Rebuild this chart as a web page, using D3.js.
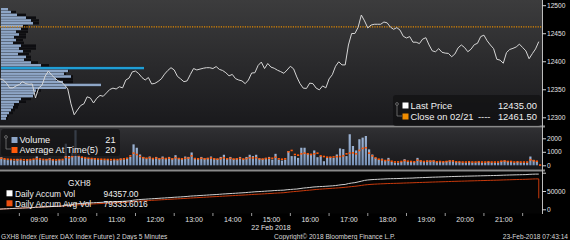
<!DOCTYPE html>
<html><head><meta charset="utf-8">
<script src="https://cdn.jsdelivr.net/npm/d3@7"></script>
<style>html,body{margin:0;padding:0;background:#000;}svg{display:block;font-family:"Liberation Sans",Arial,sans-serif;}</style>
</head><body><svg id="c" width="570" height="240"></svg>
<script>
// ---------------- DATA ----------------
const barMinutes = 5; // 5-minute bars starting 08:00
const price = [
12368.5,12366.5,12361,12352.5,12352.5,12356,12358.5,12363.5,12360,12359,
12359.5,12334.5,12352.5,12357,12373.5,12382.5,12375.5,12370,12365,12363,
12358,12350.5,12324,12304.5,12313,12321,12324,12336.5,12334.5,12325.5,
12334,12339,12337.5,12343.5,12349.5,12352,12350.5,12354.5,12352.5,12366.5,
12370,12381,12382.5,12378,12371,12366.5,12371,12359.5,12360.5,12364,
12368.5,12377,12383.5,12388.5,12384.5,12373,12368.5,12363.5,12365,12376.5,
12387,12384.5,12386,12387.5,12388.5,12388.5,12387,12390.5,12385.5,12383.5,
12379.5,12374,12376.5,12369,12366.5,12365,12360,12366.5,12379,12379.5,
12392.5,12398.5,12387,12396,12389.5,12387.5,12384,12381.5,12378.5,12384.5,
12391,12386.5,12372,12360,12352,12351.5,12361,12360,12352,12349,
12356,12352.5,12368.5,12376,12391,12399,12393.5,12393.5,12429,12449.5,
12449.5,12460.5,12482.5,12472,12459.5,12464.5,12466,12466,12466,12470,
12468.5,12461,12457,12460,12455.5,12444.5,12441.5,12444,12434,12434,
12431.5,12439.5,12442,12429,12418.5,12417,12422.5,12416,12414.5,12414,
12408,12413,12424,12429,12424.5,12417,12421.5,12429.5,12432,12444,
12446.5,12436.5,12429,12422.5,12403.5,12402,12396.5,12415.5,12421,12423,
12425.5,12430.5,12424.5,12418.5,12404.5,12413.5,12422,12435];
const volume = [
600,450,380,420,350,480,400,330,450,380,420,650,500,380,450,520,400,350,420,380,
1600,700,900,2600,800,600,550,500,480,520,450,400,380,420,350,400,380,500,
450,500,620,1550,1300,800,620,500,650,500,620,500,650,500,620,500,750,500,480,650,620,950,
500,480,620,500,550,650,500,480,620,780,500,620,480,500,620,480,620,780,680,780,500,480,550,620,
420,850,420,350,420,1050,680,680,550,1300,1300,850,850,1100,600,680,300,550,600,550,800,1250,1200,680,
2300,1430,1100,1930,2050,2170,1180,800,550,
420,500,350,550,250,200,200,250,450,250,250,250,550,350,300,350,350,350,250,300,250,300,350,350,250,250,
200,200,250,200,200,250,200,200,250,200,200,200,300,350,300,300,200,250,200,200,200,650,400,280,21];
const avgAtTime = [
520,480,450,430,420,400,430,410,400,420,450,480,460,430,420,440,410,400,420,430,
600,550,650,900,700,600,550,520,500,480,460,450,440,430,420,430,420,440,
480,520,700,900,800,650,560,520,560,500,540,480,520,500,540,480,560,500,480,520,540,700,500,480,520,480,
500,540,480,460,500,560,480,520,460,480,520,460,500,560,540,560,480,460,500,520,
520,600,480,450,480,1000,1100,800,750,850,900,850,800,850,900,700,650,600,600,620,640,650,700,850,900,920,850,1100,1250,1300,900,700,550,
450,400,350,380,300,250,250,280,350,300,280,260,380,320,280,300,300,320,260,280,260,280,320,320,260,260,
240,240,260,240,240,260,240,240,260,240,240,240,300,320,280,280,240,260,240,240,240,400,340,300,20];
const profileLevels = [12492.5,12487.5,12482.5,12477.5,12472.5,12467.5,12462.5,12457.5,12452.5,12447.5,
12442.5,12437.5,12432.5,12427.5,12422.5,12417.5,12412.5,12407.5,12402.5,12397.5,
12392.5,12387.5,12382.5,12377.5,12372.5,12367.5,12362.5,12357.5,12352.5,12347.5,
12342.5,12337.5,12332.5,12327.5,12322.5,12317.5,12312.5,12307.5,12302.5,12297.5];
const profileVol = [280,400,640,1000,1200,1280,880,800,600,720,520,600,480,800,720,880,680,1000,920,1200,
1600,5720,2680,2520,2800,2200,2480,4000,2600,1400,1320,1280,800,720,520,480,400,320,240,200];
const profileVolTotal = [280,600,1000,1400,1520,1520,1080,1080,1080,1000,1000,880,920,1400,1400,1200,1120,1200,1200,1480,
1920,5720,2720,2600,2880,2880,2880,4000,2600,1600,1400,1480,1200,1000,720,680,560,480,320,280];
const priceTicks = [12300,12350,12400,12450,12500];
const volTicks = [0,1000,2000];
const accumTicks = [0,50000,100000];
const hourLabels = ["09:00","10:00","11:00","12:00","13:00","14:00","15:00","16:00","17:00","18:00","19:00","20:00","21:00"];
const lastPrice = 12435.00, prevClose = 12461.50;
const lastVolume = 21, lastAvg = 20;
const accumVolLabel = "94357.00", accumAvgLabel = "79333.6016";
const avgAccumLastDrop = 30000;

// ---------------- CHART ----------------
const svg = d3.select("#c");
const W = 570, R = 542;
const x = d3.scaleLinear().domain([0, 14*60]).range([0, R]);
const tMin = i => i*barMinutes;
const yP = d3.scaleLinear().domain([12300,12500]).range([117.3,5.2]);
const yV = d3.scaleLinear().domain([0,2000]).range([165.3,138.3]);
const yA = d3.scaleLinear().domain([0,50000]).range([209.3,191]);

const defs = svg.append("defs");
function grad(id, c1, c2){
  const g = defs.append("linearGradient").attr("id",id).attr("x1",0).attr("y1",0).attr("x2",0).attr("y2",1);
  g.append("stop").attr("offset","0%").attr("stop-color",c1);
  g.append("stop").attr("offset","100%").attr("stop-color",c2);
}
grad("gP","#3c3c3d","#19191c");
grad("gV","#303033","#17171a");
grad("gB","#9cb3d3","#7690b6");

svg.append("rect").attr("width",570).attr("height",240).attr("fill","#000");
svg.append("rect").attr("x",0).attr("y",0).attr("width",R).attr("height",126).attr("fill","url(#gP)");
svg.append("rect").attr("x",0).attr("y",127.5).attr("width",R).attr("height",42).attr("fill","url(#gV)");
svg.append("rect").attr("x",0).attr("y",171.5).attr("width",R).attr("height",42).attr("fill","#040404");
svg.append("rect").attr("x",0).attr("y",125.5).attr("width",545).attr("height",2).attr("fill","#8a8a8a");
svg.append("rect").attr("x",0).attr("y",169.5).attr("width",545).attr("height",2).attr("fill","#8a8a8a");

// volume profile
const rowH = Math.abs(yP(12305)-yP(12300));
const xProf = d3.scaleLinear().domain([0, d3.max(profileVol)]).range([0,143]);
const pocIdx = profileVol.indexOf(d3.max(profileVol));
svg.append("g").selectAll("rect").data(profileLevels).join("rect")
  .attr("x",1).attr("y",d=>yP(d)-rowH/2).attr("height",rowH-0.3)
  .attr("width",(d,i)=>xProf(profileVolTotal[i])).attr("fill","#0d0d10");
svg.append("g").selectAll("rect").data(profileLevels).join("rect")
  .attr("x",1).attr("y",d=>yP(d)-rowH/2).attr("height",rowH-0.3)
  .attr("width",(d,i)=>xProf(profileVol[i]))
  .attr("fill",(d,i)=>i===pocIdx?"#1f9ed6":"#8ea6c7");

// prev close dotted line
svg.append("line").attr("x1",0).attr("x2",R).attr("y1",yP(prevClose)).attr("y2",yP(prevClose))
  .attr("stroke","#e38a00").attr("stroke-width",1.2).attr("stroke-dasharray","1.2,1.2");

// price line
svg.append("path").datum(price)
  .attr("d", d3.line().x((d,i)=>x(tMin(i))).y(d=>yP(d)))
  .attr("fill","none").attr("stroke","#d6d6d6").attr("stroke-width",1);

// volume bars
svg.append("g").selectAll("rect").data(volume).join("rect")
  .attr("x",(d,i)=>x(tMin(i))+0.2).attr("width",2.2)
  .attr("y",d=>yV(d)).attr("height",d=>yV(0)-yV(d)).attr("fill","url(#gB)");
svg.append("g").selectAll("rect").data(avgAtTime).join("rect")
  .attr("x",(d,i)=>x(tMin(i))+0.2).attr("width",2.2)
  .attr("y",d=>yV(d)-0.8).attr("height",1.6).attr("fill","#ff5a0a");

// accumulations
const accVol = d3.cumsum(volume), accAvg = d3.cumsum(avgAtTime);
svg.append("path").datum(Array.from(accAvg))
  .attr("d", d3.line().x((d,i)=>x(tMin(i))).y(d=>yA(d)))
  .attr("fill","none").attr("stroke","#c93a0c").attr("stroke-width",1);
svg.append("line").attr("x1",x(tMin(accAvg.length-1))).attr("x2",x(tMin(accAvg.length-1)))
  .attr("y1",yA(accAvg[accAvg.length-1])).attr("y2",yA(avgAccumLastDrop)).attr("stroke","#c93a0c");
svg.append("path").datum(Array.from(accVol))
  .attr("d", d3.line().x((d,i)=>x(tMin(i))).y(d=>yA(d)))
  .attr("fill","none").attr("stroke","#cfcfcf").attr("stroke-width",1);

// right axes
svg.append("line").attr("x1",R+0.5).attr("x2",R+0.5).attr("y1",0).attr("y2",214).attr("stroke","#bdbdbd");
function rAxis(scale, ticks, fmt){
  const g = svg.append("g").attr("transform",`translate(${R},0)`)
    .call(d3.axisRight(scale).tickValues(ticks).tickSize(4).tickPadding(1).tickFormat(fmt));
  g.select(".domain").remove();
  g.selectAll("line").attr("stroke","#d0d0d0");
  g.selectAll("text").attr("fill","#e4e4e4").style("font-size","6.6px").style("font-family","'Liberation Sans',Arial,sans-serif");
}
rAxis(yP, priceTicks, d3.format("d"));
rAxis(yV, volTicks, d3.format("d"));
rAxis(yA, accumTicks, d=>d>=100000?"":d3.format("d")(d));

// time axis
const hourMins = hourLabels.map(h=>(+h.slice(0,2)-8)*60);
const xa = svg.append("g").attr("transform","translate(0,214)")
  .call(d3.axisBottom(x).tickValues(hourMins).tickSize(0).tickPadding(3).tickFormat((d,i)=>hourLabels[i]));
xa.select(".domain").remove();
xa.selectAll("text").attr("fill","#e4e4e4").style("font-size","7px").style("font-family","'Liberation Sans',Arial,sans-serif");
svg.append("g").selectAll("line").data(hourMins.map(m=>m-30).concat([hourMins[hourMins.length-1]+30])).join("line")
  .attr("x1",d=>x(d)).attr("x2",d=>x(d)).attr("y1",213).attr("y2",216).attr("stroke","#9a9a9a");
svg.append("text").attr("x",x(hourMins[6])).attr("y",229.5).attr("text-anchor","middle")
  .attr("fill","#e4e4e4").style("font-size","7px").text("22 Feb 2018");

// footer
const ft = {fill:"#d8d8d8", size:"6.6px"};
svg.append("text").attr("x",1).attr("y",238.5).attr("fill",ft.fill).style("font-size",ft.size).text("GXH8 Index (Eurex DAX Index Future) 2 Days 5 Minutes");
svg.append("text").attr("x",274).attr("y",238.5).attr("fill",ft.fill).style("font-size",ft.size).text("Copyright\u00A9 2018 Bloomberg Finance L.P.");
svg.append("text").attr("x",568).attr("y",238.5).attr("text-anchor","end").attr("fill",ft.fill).style("font-size",ft.size).text("23-Feb-2018 07:43:14");

// legends
function legendBox(x0,y0,w,h){
  svg.append("rect").attr("x",x0).attr("y",y0).attr("width",w).attr("height",h).attr("rx",3)
    .attr("fill","#101012").attr("fill-opacity",0.72);
}
function connector(cx, y1, y2, sx){
  svg.append("circle").attr("cx",cx).attr("cy",y1).attr("r",1.4).attr("fill","none").attr("stroke","#888").attr("stroke-width",0.7);
  svg.append("path").attr("d",`M${cx},${y1+1.4}V${y2}H${sx}`).attr("fill","none").attr("stroke","#888").attr("stroke-width",0.7);
}
const lfTop = "9.4px", lfVol = "9.2px", lfAcc = "8.4px";
// price legend
legendBox(393,95,148,31);
connector(397,104,116,402);
svg.append("rect").attr("x",402.5).attr("y",102.5).attr("width",6).attr("height",6).attr("fill","#fff");
svg.append("rect").attr("x",402.5).attr("y",113.5).attr("width",6).attr("height",6).attr("fill","#f08c00");
svg.append("text").attr("x",410.5).attr("y",109.2).attr("fill","#f0f0f0").style("font-size",lfTop).text("Last Price");
svg.append("text").attr("x",537).attr("y",109.2).attr("text-anchor","end").attr("fill","#f0f0f0").style("font-size",lfTop).text(lastPrice.toFixed(2));
svg.append("text").attr("x",410.5).attr("y",120.2).attr("fill","#f0f0f0").style("font-size",lfTop).text("Close on 02/21");
svg.append("text").attr("x",478).attr("y",120.2).attr("fill","#f0f0f0").style("font-size",lfTop).text("----");
svg.append("text").attr("x",537).attr("y",120.2).attr("text-anchor","end").attr("fill","#f0f0f0").style("font-size",lfTop).text(prevClose.toFixed(2));
// volume legend
legendBox(1,129,119,27);
connector(6,137,149,11);
svg.append("rect").attr("x",11.5).attr("y",137).attr("width",6).attr("height",6).attr("fill","#8ea6c7");
svg.append("rect").attr("x",11.5).attr("y",147).attr("width",6).attr("height",6).attr("fill","#ff5a0a");
svg.append("text").attr("x",19.5).attr("y",143.3).attr("fill","#f0f0f0").style("font-size",lfVol).text("Volume");
svg.append("text").attr("x",115.5).attr("y",143.3).attr("text-anchor","end").attr("fill","#f0f0f0").style("font-size",lfVol).text(lastVolume);
svg.append("text").attr("x",19.5).attr("y",153.3).attr("fill","#f0f0f0").style("font-size",lfVol).text("Average At Time(5)");
svg.append("text").attr("x",115.5).attr("y",153.3).attr("text-anchor","end").attr("fill","#f0f0f0").style("font-size",lfVol).text(lastAvg);
// accum legend
svg.append("text").attr("x",68).attr("y",186.3).attr("fill","#f0f0f0").style("font-size","8.3px").text("GXH8");
svg.append("rect").attr("x",6.5).attr("y",190.3).attr("width",6).attr("height",6).attr("fill","#fff");
svg.append("rect").attr("x",6.5).attr("y",200.3).attr("width",6).attr("height",6).attr("fill","#ee5010");
svg.append("text").attr("x",15).attr("y",196.5).attr("fill","#f0f0f0").style("font-size",lfAcc).text("Daily Accum Vol");
svg.append("text").attr("x",103.5).attr("y",196.5).attr("fill","#f0f0f0").style("font-size",lfAcc).text(accumVolLabel);
svg.append("text").attr("x",15).attr("y",206.5).attr("fill","#f0f0f0").style("font-size",lfAcc).text("Daily Accum Avg Vol");
svg.append("text").attr("x",103.5).attr("y",206.5).attr("fill","#f0f0f0").style("font-size",lfAcc).text(accumAvgLabel);
</script></body></html>
